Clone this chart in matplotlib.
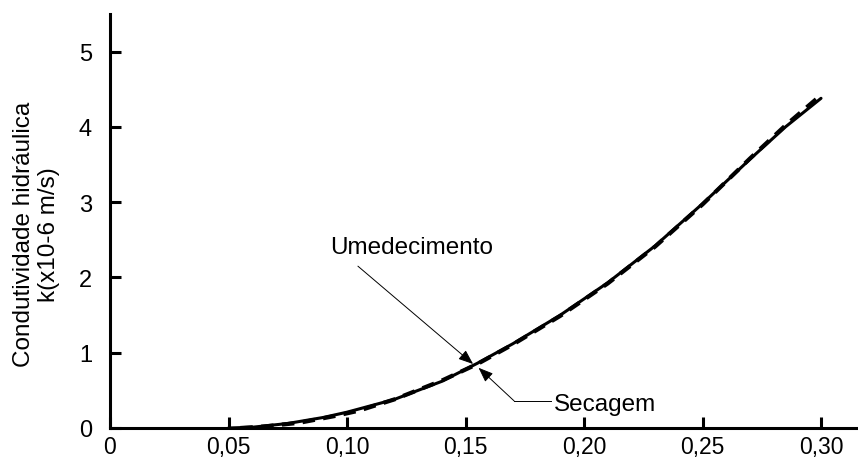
import numpy as np
import matplotlib
matplotlib.use("Agg")
import matplotlib.pyplot as plt

plt.rcParams['font.family'] = ['Liberation Sans', 'DejaVu Sans']

# umidade volumetrica (x) e condutividade hidraulica k (x10-6 m/s)
theta_umed = [0.050, 0.060, 0.075, 0.090, 0.100, 0.120, 0.140, 0.155, 0.170,
              0.190, 0.210, 0.230, 0.250, 0.270, 0.285, 0.300]
k_umed = [0.00, 0.01, 0.06, 0.14, 0.21, 0.38, 0.62, 0.86, 1.12,
          1.50, 1.93, 2.42, 2.98, 3.57, 4.00, 4.38]

theta_sec = [0.055, 0.065, 0.080, 0.095, 0.105, 0.120, 0.140, 0.155, 0.170,
             0.190, 0.210, 0.230, 0.250, 0.270, 0.285, 0.298]
k_sec = [0.00, 0.02, 0.07, 0.16, 0.23, 0.38, 0.63, 0.85, 1.11,
         1.49, 1.92, 2.41, 2.97, 3.58, 4.02, 4.37]

xticks = [0, 0.05, 0.10, 0.15, 0.20, 0.25, 0.30]
xlabels = ['0', '0,05', '0,10', '0,15', '0,20', '0,25', '0,30']
yticks = [0, 1, 2, 3, 4, 5]

fig = plt.figure(figsize=(8.58, 4.64), dpi=100)
ax = fig.add_axes([110 / 858, 35 / 464, 748 / 858, 414 / 464])

ax.plot(theta_umed, k_umed, color='black', lw=2.2, solid_capstyle='round')
ax.plot(theta_sec, k_sec, color='black', lw=3.0, ls=(0, (3, 2)))

ax.set_xlim(0, 0.3156)
ax.set_ylim(0, 5.5)
ax.set_xticks(xticks)
ax.set_xticklabels(xlabels)
ax.set_yticks(yticks)

for s in ['top', 'right']:
    ax.spines[s].set_visible(False)
for s in ['left', 'bottom']:
    ax.spines[s].set_linewidth(2.2)
    ax.spines[s].set_color('black')

ax.tick_params(axis='both', direction='in', length=8, width=2.2,
               colors='black')
ax.tick_params(axis='x', pad=5, labelsize=16.5)
ax.tick_params(axis='y', pad=13, labelsize=17)

ax.set_ylabel('Condutividade hidráulica\nk(x10-6 m/s)', fontsize=17.5,
              linespacing=1.15, va='center', ha='center')
ax.yaxis.set_label_coords(-0.098, 0.47)

# setas das curvas
arrow = dict(arrowstyle='-|>,head_length=0.9,head_width=0.35',
             color='black', lw=0.7, shrinkA=0, shrinkB=0)
ax.annotate('', xy=(0.1532, 0.85), xytext=(0.1046, 2.15), arrowprops=arrow)
ax.text(0.1274, 2.40, 'Umedecimento', fontsize=17.5, ha='center', va='center')

ax.annotate('', xy=(0.1555, 0.80), xytext=(0.1705, 0.36), arrowprops=arrow)
ax.plot([0.1705, 0.1860], [0.36, 0.36], color='black', lw=0.7)
ax.text(0.1875, 0.32, 'Secagem', fontsize=17.5, ha='left', va='center')

fig.savefig('out.png', dpi=100)
